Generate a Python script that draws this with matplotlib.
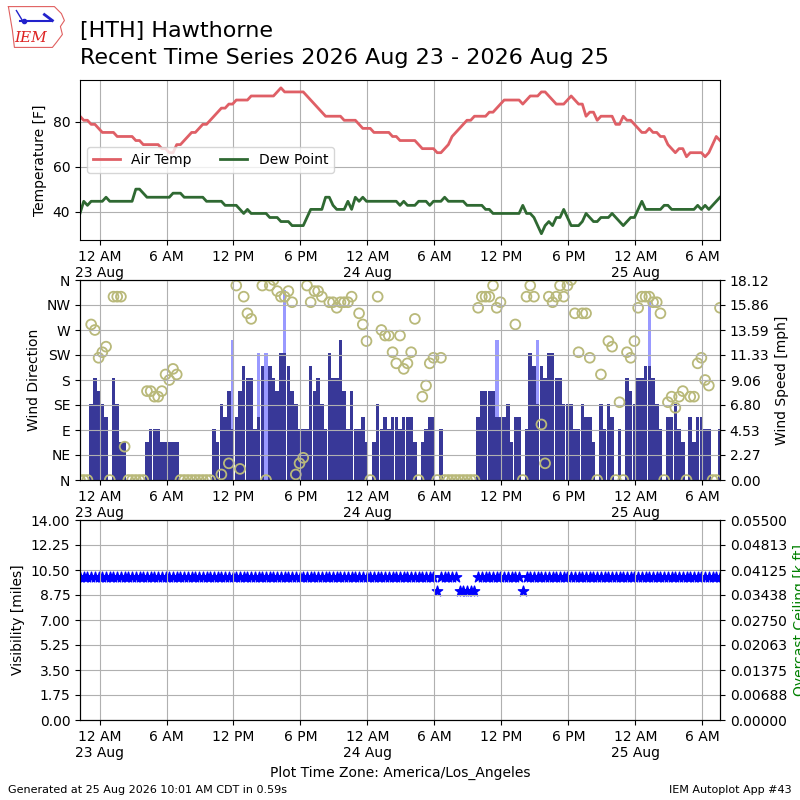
import matplotlib
matplotlib.use('Agg')
import matplotlib.pyplot as plt
import matplotlib.dates as mdates
from matplotlib.ticker import FuncFormatter, FormatStrFormatter
import numpy as np
import pandas as pd

nan = np.nan

# observations every 20 minutes, local time (America/Los_Angeles)
valid = pd.date_range('2026-08-22 22:15', '2026-08-25 07:35', freq='20min')

# air temperature [F]
tmpf = [
    82.4, 80.6, 80.6, 78.8, 78.8, 77.0, 75.2, 75.2, 75.2, 75.2,
    73.4, 73.4, 73.4, 73.4, 73.4, 71.6, 71.6, 69.8, 69.8, 69.8,
    69.8, 69.8, 68.0, 68.0, 66.2, 66.2, 69.8, 69.8, 71.6, 73.4,
    75.2, 75.2, 77.0, 78.8, 78.8, 80.6, 82.4, 84.2, 86.0, 86.0,
    87.8, 87.8, 89.6, 89.6, 89.6, 89.6, 91.4, 91.4, 91.4, 91.4,
    91.4, 91.4, 91.4, 93.2, 95.0, 93.2, 93.2, 93.2, 93.2, 93.2,
    93.2, 91.4, 89.6, 87.8, 86.0, 84.2, 82.4, 82.4, 82.4, 82.4,
    82.4, 80.6, 80.6, 80.6, 80.6, 78.8, 77.0, 77.0, 77.0, 75.2,
    75.2, 75.2, 75.2, 75.2, 73.4, 73.4, 71.6, 71.6, 71.6, 71.6,
    71.6, 69.8, 68.0, 68.0, 68.0, 68.0, 66.2, 66.2, 68.0, 69.8,
    73.4, 75.2, 77.0, 78.8, 80.6, 80.6, 82.4, 82.4, 82.4, 82.4,
    84.2, 84.2, 86.0, 87.8, 89.6, 89.6, 89.6, 89.6, 89.6, 87.8,
    89.6, 91.4, 91.4, 91.4, 93.2, 93.2, 91.4, 89.6, 87.8, 87.8,
    87.8, 89.6, 91.4, 89.6, 87.8, 87.8, 82.4, 84.2, 84.2, 80.6,
    82.4, 82.4, 82.4, 82.4, 78.8, 78.8, 82.4, 80.6, 80.6, 78.8,
    77.0, 75.2, 75.2, 77.0, 75.2, 75.2, 73.4, 73.4, 69.8, 68.0,
    66.2, 68.0, 68.0, 64.4, 66.2, 66.2, 66.2, 66.2, 64.4, 66.2,
    69.8, 73.4, 71.6]

# dew point [F]
dwpf = [
    39.2, 44.6, 42.8, 44.6, 44.6, 44.6, 44.6, 46.4, 44.6, 44.6,
    44.6, 44.6, 44.6, 44.6, 44.6, 50.0, 50.0, 48.2, 46.4, 46.4,
    46.4, 46.4, 46.4, 46.4, 46.4, 48.2, 48.2, 48.2, 46.4, 46.4,
    46.4, 46.4, 46.4, 46.4, 44.6, 44.6, 44.6, 44.6, 44.6, 42.8,
    42.8, 42.8, 42.8, 41.0, 39.2, 41.0, 39.2, 39.2, 39.2, 39.2,
    39.2, 37.4, 37.4, 37.4, 35.6, 35.6, 35.6, 33.8, 33.8, 33.8,
    33.8, 37.4, 41.0, 41.0, 41.0, 41.0, 46.4, 46.4, 42.8, 41.0,
    41.0, 41.0, 44.6, 41.0, 46.4, 44.6, 46.4, 44.6, 44.6, 44.6,
    44.6, 44.6, 44.6, 44.6, 44.6, 44.6, 42.8, 44.6, 42.8, 42.8,
    42.8, 44.6, 44.6, 44.6, 42.8, 44.6, 44.6, 44.6, 46.4, 44.6,
    44.6, 44.6, 44.6, 44.6, 42.8, 42.8, 42.8, 42.8, 42.8, 41.0,
    41.0, 39.2, 39.2, 39.2, 39.2, 39.2, 39.2, 39.2, 39.2, 42.8,
    39.2, 39.2, 37.4, 33.8, 30.2, 33.8, 35.6, 33.8, 37.4, 37.4,
    41.0, 37.4, 33.8, 33.8, 33.8, 35.6, 39.2, 37.4, 35.6, 35.6,
    37.4, 37.4, 37.4, 39.2, 37.4, 35.6, 33.8, 35.6, 37.4, 37.4,
    41.0, 44.6, 41.0, 41.0, 41.0, 41.0, 41.0, 42.8, 42.8, 41.0,
    41.0, 41.0, 41.0, 41.0, 41.0, 41.0, 42.8, 41.0, 42.8, 41.0,
    42.8, 44.6, 46.4]

# wind speed [kt]
sknt = [
    0, 0, 0, 6, 8, 7, 6, 5, 0, 8,
    6, 3, 3, 0, 0, 0, 0, 0, 3, 4,
    4, 4, 3, 3, 3, 3, 3, 0, 0, 0,
    0, 0, 0, 0, 0, 0, 4, 3, 6, 5,
    7, 4, 5, 7, 9, 8, 8, 4, 5, 9,
    0, 9, 8, 7, 10, 10, 9, 7, 6, 4,
    4, 4, 9, 7, 8, 6, 4, 10, 8, 8,
    11, 7, 4, 7, 4, 4, 5, 3, 0, 3,
    6, 4, 5, 4, 5, 5, 4, 5, 5, 5,
    3, 0, 3, 4, 5, 5, 0, 4, 0, 0,
    0, 0, 0, 0, 0, 0, 0, 5, 7, 7,
    7, 7, 5, 5, 5, 6, 3, 5, 5, 0,
    4, 10, 9, 6, 9, 8, 10, 10, 8, 8,
    6, 6, 6, 4, 4, 6, 5, 5, 3, 0,
    6, 4, 6, 5, 0, 4, 0, 8, 7, 6,
    8, 8, 9, 9, 8, 6, 4, 0, 5, 5,
    6, 4, 3, 0, 5, 3, 5, 5, 4, 4,
    0, 0, 4]

# wind direction [deg], nan = variable / missing
drct = [
    0, 0, 0, 280, 270, 220, 230, 240, 0, 330,
    330, 330, 60, 0, 0, 0, 0, 0, 160, 160,
    150, 150, 160, 190, 180, 200, 190, 0, 0, 0,
    0, 0, 0, 0, 0, 0, nan, nan, 10, nan,
    30, nan, 350, 20, 330, 300, 290, nan, nan, 350,
    0, 350, 360, 340, 330, 330, 340, 320, 10, 30,
    40, 350, 320, 340, 340, 330, nan, 320, 320, 310,
    320, 320, 320, 330, nan, 300, 280, 250, 0, nan,
    330, 270, 260, 260, 230, 210, 260, 200, 210, 230,
    290, 0, 150, 170, 210, 220, 0, 220, 0, 0,
    0, 0, 0, 0, 0, 0, 0, 310, 330, 330,
    330, 350, 310, 320, nan, nan, nan, 280, nan, 0,
    330, 350, 330, nan, 100, 30, 330, 320, 330, 350,
    330, 350, 360, 300, 230, 300, 300, 220, nan, 0,
    190, nan, 250, 240, 0, 140, 0, 230, 220, 250,
    310, 330, 330, 330, 320, 320, 300, 0, 140, 150,
    130, 150, 160, 0, 150, 150, 210, 220, 180, 170,
    0, 0, 310]

# gusts [kt] at the observation index they were reported
gust_obs = [41, 48, 50, 55, 112, 123, 153]
gust_kt = [11, 10, 10, 15, 11, 11, 14]

# visibility [miles]
vsby = [10.0] * 96 + [9.0] + [10.0] * 5 + [9.0] * 5 + [10.0] * 12 + [9.0] + [10.0] * 53

dir_labels = ['N', 'NE', 'E', 'SE', 'S', 'SW', 'W', 'NW', 'N']
KT2MPH = 1.15078


def time_fmt(x, pos=None):
    dt = mdates.num2date(x)
    hr = dt.hour % 12 or 12
    label = f"{hr} {'AM' if dt.hour < 12 else 'PM'}"
    if dt.hour == 0:
        label += "\n" + dt.strftime('%d %b')
    return label


def fix_xaxis(ax):
    ax.xaxis.set_major_locator(mdates.HourLocator(byhour=[0, 6, 12, 18]))
    ax.xaxis.set_major_formatter(FuncFormatter(time_fmt))
    ax.set_xlim(valid[0], valid[-1])


fig = plt.figure(figsize=(8, 8), dpi=100)

# temperature panel
ax1 = fig.add_axes([0.1, 0.7, 0.8, 0.2])
ax1.plot(valid, tmpf, color='#df5f66', lw=2, label='Air Temp')
ax1.plot(valid, dwpf, color='#2f6932', lw=2, label='Dew Point')
ax1.set_ylim(27.4, 98.5)
ax1.set_yticks([40, 60, 80])
ax1.set_ylabel('Temperature [F]')
ax1.grid(True)
ax1.legend(loc='center left', ncol=2)
fix_xaxis(ax1)

# wind panel
ax2 = fig.add_axes([0.1, 0.4, 0.8, 0.25])
ax2b = ax2.twinx()
width = 1 / 72. * 0.95
gust_times = valid[gust_obs]
gust_mph = np.array(gust_kt) * KT2MPH
ax2b.bar(gust_times, gust_mph, width=width, color='#9999ff')
ax2b.bar(valid, np.array(sknt) * KT2MPH, width=width, color='#383898')
smax = gust_mph.max() * 1.05
ax2b.set_ylim(0, smax)
ax2b.set_yticks(np.linspace(0, smax, 9))
ax2b.yaxis.set_major_formatter(FormatStrFormatter('%.2f'))
ax2b.set_ylabel('Wind Speed [mph]')

ax2.set_zorder(ax2b.get_zorder() + 1)
ax2.patch.set_visible(False)
ax2.scatter(valid, drct, s=50, facecolors='none', edgecolors='#b9b97a',
            linewidths=1.3)
ax2.set_ylim(0, 360)
ax2.set_yticks(range(0, 361, 45))
ax2.set_yticklabels(dir_labels)
ax2.set_ylabel('Wind Direction')
ax2.grid(True)
fix_xaxis(ax2)

# visibility panel
ax3 = fig.add_axes([0.1, 0.1, 0.8, 0.25])
ax3.scatter(valid, vsby, marker='*', s=60, color='blue')
ax3.set_ylim(0, 14)
ax3.set_yticks(np.linspace(0, 14, 9))
ax3.yaxis.set_major_formatter(FormatStrFormatter('%.2f'))
ax3.set_ylabel('Visibility [miles]')
ax3.grid(True)
ax3.set_xlabel('Plot Time Zone: America/Los_Angeles')
fix_xaxis(ax3)
ax3b = ax3.twinx()
ax3b.set_ylim(0, 0.055)
ax3b.set_yticks(np.linspace(0, 0.055, 9))
ax3b.yaxis.set_major_formatter(FormatStrFormatter('%.5f'))
ax3b.set_ylabel('Overcast Ceiling [k ft]', color='green')

# small IEM logo (state outline + station symbol)
logo = fig.add_axes([0.008, 0.937, 0.075, 0.056])
logo.set_xlim(0, 60)
logo.set_ylim(0, 45)
logo.axis('off')
logo.plot([2, 48, 52, 55, 58, 54, 56, 50, 46, 8, 6, 4, 2],
          [44, 44, 40, 37, 30, 24, 16, 8, 3, 3, 20, 32, 44],
          color='#e06060', lw=0.8)
logo.plot([14, 46], [30, 30], color='#2222cc', lw=1.5)
logo.plot([10, 16], [40, 30], color='#2222cc', lw=1.0)
logo.plot([38, 46], [36, 30], color='#2222cc', lw=2.0)
logo.plot([18], [30], 'o', color='#2222cc', ms=3)
logo.text(24, 8, 'IEM', color='#dd2222', fontsize=11, style='italic',
          family='DejaVu Serif', ha='center', va='baseline')

# titles and footer
fig.text(0.1, 0.954, '[HTH] Hawthorne', fontsize=16, va='baseline')
fig.text(0.1, 0.920, 'Recent Time Series 2026 Aug 23 - 2026 Aug 25',
         fontsize=16, va='baseline')
fig.text(0.01, 0.009, 'Generated at 25 Aug 2026 10:01 AM CDT in 0.59s',
         fontsize=8)
fig.text(0.99, 0.009, 'IEM Autoplot App #43', fontsize=8, ha='right')

fig.savefig('out.png', dpi=100)
